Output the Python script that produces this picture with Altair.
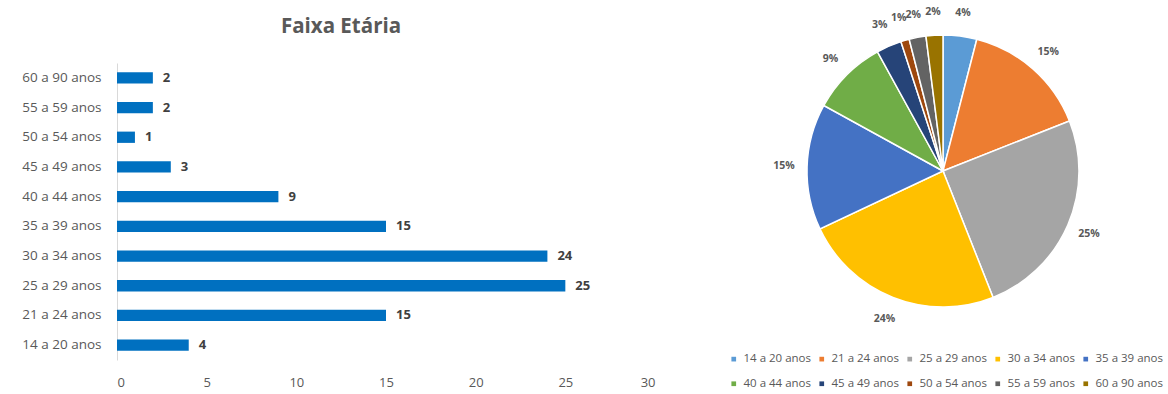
import altair as alt
import pandas as pd

categories = ["14 a 20 anos", "21 a 24 anos", "25 a 29 anos", "30 a 34 anos", "35 a 39 anos",
              "40 a 44 anos", "45 a 49 anos", "50 a 54 anos", "55 a 59 anos", "60 a 90 anos"]
counts = [4, 15, 25, 24, 15, 9, 3, 1, 2, 2]
slice_colors = ["#5B9BD5", "#ED7D31", "#A5A5A5", "#FFC000", "#4472C4",
                "#70AD47", "#264478", "#9E480E", "#636363", "#997300"]
x_ticks = [0, 5, 10, 15, 20, 25, 30]

df = pd.DataFrame({"faixa": categories, "n": counts, "ordem": list(range(len(categories)))})

FONT = "Open Sans"
GRAY = "#595959"

bar_base = alt.Chart(df).encode(
    x=alt.X("n:Q", scale=alt.Scale(domain=[0, 30]),
            axis=alt.Axis(values=x_ticks, title=None, grid=False, domain=False, ticks=False,
                          labelPadding=16, labelFontSize=13, labelColor=GRAY)),
    y=alt.Y("faixa:N", sort=categories[::-1],
            scale=alt.Scale(paddingInner=0.62, paddingOuter=0.31),
            axis=alt.Axis(title=None, ticks=False, domainColor="#d9d9d9", labelPadding=16,
                          labelFontSize=13.5, labelColor=GRAY, minExtent=112, maxExtent=112)),
)
bars = bar_base.mark_bar(color="#0070C0")
bar_labels = bar_base.mark_text(align="left", baseline="middle", dx=10, fontSize=13,
                                color="#404040", fontWeight="bold").encode(text="n:Q")

bar_chart = alt.layer(bars, bar_labels).properties(
    width=538, height=297,
    title=alt.TitleParams("Faixa Etária", fontSize=20.5, color=GRAY, fontWeight="bold",
                          frame="bounds", anchor="middle", offset=26, dx=11),
)

pie_base = alt.Chart(df).transform_joinaggregate(total="sum(n)").transform_calculate(
    pct="round(datum.n / datum.total * 100) + '%'"
).encode(
    theta=alt.Theta("n:Q", stack=True),
    order=alt.Order("ordem:Q"),
)
arcs = pie_base.mark_arc(outerRadius=136, stroke="white", strokeWidth=1.5).encode(
    color=alt.Color("faixa:N", scale=alt.Scale(domain=categories, range=slice_colors),
                    legend=alt.Legend(title=None, orient="none", legendX=611, legendY=290,
                                      direction="horizontal", columns=5, symbolType="square",
                                      symbolSize=22, labelFontSize=11.5, labelColor=GRAY,
                                      labelOffset=4, columnPadding=5, rowPadding=12,
                                      symbolStrokeWidth=0))
)
pct_text = pie_base.mark_text(radius=159, fontSize=10.5, fontWeight="bold").encode(
    text="pct:N", color=alt.value(GRAY)
)
pie_chart = alt.layer(arcs, pct_text).properties(width=400, height=216)

chart = alt.hconcat(bar_chart, pie_chart, spacing=88).configure(
    font=FONT, padding={"left": 5, "top": 7, "right": 5, "bottom": 5}, background="white"
).configure_view(stroke=None)

chart.save("out.html", embed_options={"renderer": "svg", "actions": False})
